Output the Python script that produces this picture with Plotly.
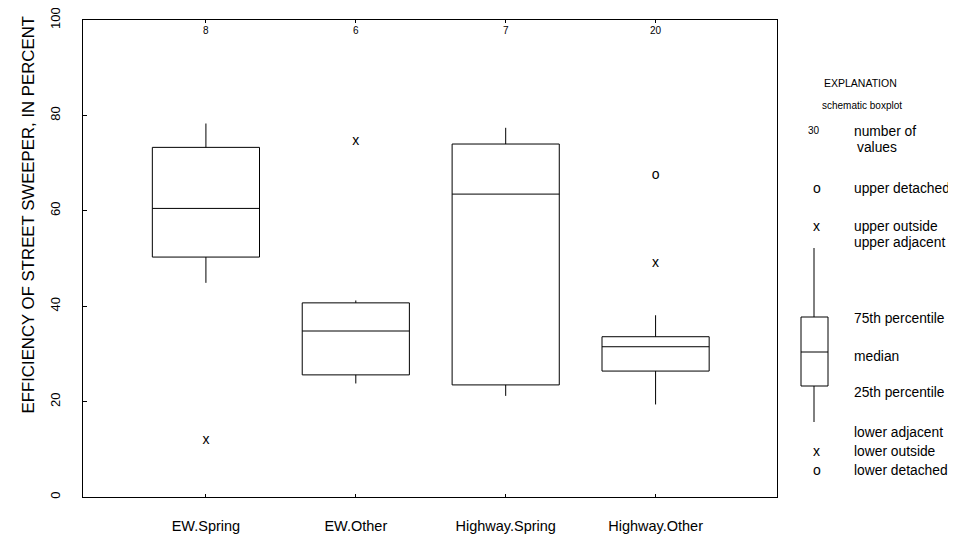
import plotly.graph_objects as go

# ---- data ----
categories = ["EW.Spring", "EW.Other", "Highway.Spring", "Highway.Other"]
counts = [8, 6, 7, 20]
q1 = [50.3, 25.6, 23.5, 26.4]
median = [60.5, 34.8, 63.5, 31.5]
q3 = [73.3, 40.7, 74.0, 33.6]
lower_adj = [44.9, 23.8, 21.2, 19.4]
upper_adj = [78.3, 41.2, 77.4, 38.1]

outlier_cat = [1, 2, 4, 4]
outlier_val = [11.9, 74.5, 67.4, 49.0]
outlier_sym = ["x", "x", "o", "x"]

y_ticks = [0, 20, 40, 60, 80, 100]

# the page body has an 8px margin, so the figure is drawn 8px smaller
OFF = 8
W, H = 956 - OFF, 537 - OFF
# plot area in screen pixels
SL, SR, ST, SB = 83, 777, 20, 497
L, R, T, B = SL - OFF, SR - OFF, ST - OFF, SB - OFF
FONT = "Arial, Liberation Sans, sans-serif"
FS = 14.5
LFS = 13.8


def px(x):
    """screen x pixel -> paper"""
    return (x - SL) / (SR - SL)


def py(y):
    """screen y pixel -> paper"""
    return (SB - y) / (SB - ST)


pos = list(range(1, len(categories) + 1))

fig = go.Figure()
fig.add_trace(go.Box(
    x=pos, q1=q1, median=median, q3=q3,
    lowerfence=lower_adj, upperfence=upper_adj,
    width=0.715, whiskerwidth=0, boxpoints=False,
    fillcolor="white", line=dict(color="black", width=1),
    showlegend=False, hoverinfo="skip",
))
fig.add_trace(go.Scatter(
    x=outlier_cat, y=outlier_val, mode="text", text=outlier_sym,
    textposition="middle center",
    textfont=dict(family=FONT, size=14, color="black"),
    showlegend=False, hoverinfo="skip",
))

annotations = []
# counts at top
for p, c in zip(pos, counts):
    annotations.append(dict(x=p, y=1, xref="x", yref="paper", text=str(c),
                            showarrow=False, yanchor="top", yshift=-3,
                            font=dict(family=FONT, size=10, color="black")))

# y-axis title
annotations.append(dict(x=px(16), y=py(215), xref="paper", yref="paper",
                        text="EFFICIENCY OF STREET SWEEPER, IN PERCENT",
                        textangle=-90, showarrow=False,
                        font=dict(family=FONT, size=16.8, color="black")))


# explanation
def txt(x, y, s, size=LFS, anchor="left"):
    annotations.append(dict(x=px(x), y=py(y), xref="paper", yref="paper",
                            text=s, showarrow=False, xanchor=anchor,
                            yanchor="middle",
                            font=dict(family=FONT, size=size, color="black")))


txt(861, 83, "EXPLANATION", 10.5, "center")
txt(862, 105, "schematic boxplot", 10, "center")
txt(814, 130, "30", 10, "center")
txt(852, 132, "number of")
txt(855, 147, "values")
txt(817, 188, "o", 14, "center")
txt(852, 188, "upper detached")
txt(817, 226, "x", 14, "center")
txt(852, 226, "upper outside")
txt(852, 242, "upper adjacent")
txt(852, 318, "75th percentile")
txt(852, 356, "median")
txt(852, 392, "25th percentile")
txt(852, 432, "lower adjacent")
txt(817, 451, "x", 14, "center")
txt(852, 451, "lower outside")
txt(817, 470, "o", 14, "center")
txt(852, 470, "lower detached")

shapes = []
ln = dict(color="black", width=1)
shapes.append(dict(type="line", xref="paper", yref="paper",
                   x0=px(814), x1=px(814), y0=py(248), y1=py(317), line=ln))
shapes.append(dict(type="rect", xref="paper", yref="paper",
                   x0=px(801), x1=px(828), y0=py(317), y1=py(386), line=ln))
shapes.append(dict(type="line", xref="paper", yref="paper",
                   x0=px(801), x1=px(828), y0=py(352), y1=py(352), line=ln))
shapes.append(dict(type="line", xref="paper", yref="paper",
                   x0=px(814), x1=px(814), y0=py(386), y1=py(422), line=ln))

fig.update_layout(
    template="none",
    width=W, height=H,
    margin=dict(l=L, r=W - R, t=T, b=H - B, autoexpand=False),
    paper_bgcolor="white", plot_bgcolor="white",
    font=dict(family=FONT, size=FS, color="black"),
    annotations=annotations, shapes=shapes,
    showlegend=False,
)
fig.update_xaxes(
    range=[0.18, 4.81], tickvals=pos, ticktext=categories,
    showline=True, linecolor="black", linewidth=1, mirror="ticks",
    ticks="inside", ticklen=3, tickcolor="black",
    showgrid=False, zeroline=False, automargin=False,
    tickfont=dict(family=FONT, size=FS, color="black"),
    ticklabelstandoff=16,
)
fig.update_yaxes(
    range=[0, 100], tickvals=y_ticks, ticktext=[str(v) for v in y_ticks],
    showline=True, linecolor="black", linewidth=1, mirror=True,
    ticks="inside", ticklen=4, tickcolor="black", tickangle=-90,
    showgrid=False, zeroline=False, automargin=False,
    tickfont=dict(family=FONT, size=13, color="black"),
    ticklabelstandoff=17, ticklabeloverflow="allow",
)

fig.write_html("out.html")
